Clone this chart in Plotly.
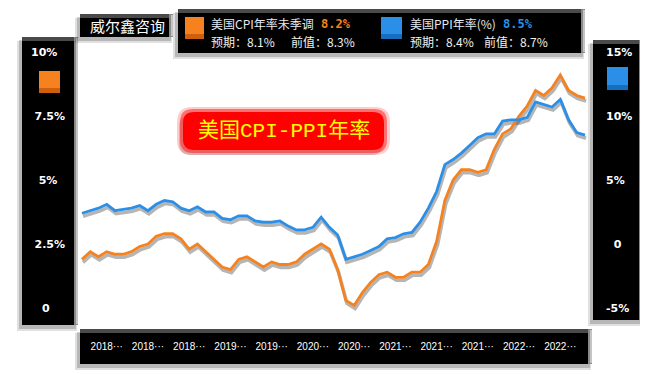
import pandas as pd
import plotly.graph_objects as go

# ---------------- data ----------------
months = pd.date_range("2017-08-01", "2022-09-01", freq="MS")
cpi_yoy = [1.9, 2.2, 2.0, 2.2, 2.1,
           2.1, 2.2, 2.4, 2.5, 2.8, 2.9, 2.9, 2.7, 2.3, 2.5, 2.2, 1.9,
           1.6, 1.5, 1.9, 2.0, 1.8, 1.6, 1.8, 1.7, 1.7, 1.8, 2.1, 2.3,
           2.5, 2.3, 1.5, 0.3, 0.1, 0.6, 1.0, 1.3, 1.4, 1.2, 1.2, 1.4,
           1.4, 1.7, 2.6, 4.2, 5.0, 5.4, 5.4, 5.3, 5.4, 6.2, 6.8, 7.0,
           7.5, 7.9, 8.5, 8.3, 8.6, 9.1, 8.5, 8.3, 8.2]
ppi_yoy = [2.4, 2.6, 2.8, 3.1, 2.6,
           2.7, 2.8, 3.0, 2.6, 3.1, 3.4, 3.3, 2.8, 2.6, 2.9, 2.5, 2.5,
           2.0, 1.9, 2.2, 2.2, 1.8, 1.7, 1.7, 1.8, 1.4, 1.1, 1.1, 1.3,
           2.1, 1.3, 0.7, -1.2, -1.0, -0.8, -0.5, -0.2, 0.4, 0.5, 0.8, 0.9,
           1.7, 2.8, 4.1, 6.2, 6.6, 7.1, 7.7, 8.3, 8.6, 8.6, 9.6, 9.7,
           9.7, 9.9, 11.1, 10.9, 10.7, 11.3, 9.7, 8.7, 8.5]
x_tick_labels = ["2018···", "2018···", "2018···", "2019···", "2019···", "2020···",
                 "2020···", "2021···", "2021···", "2021···", "2022···", "2022···"]
left_tick_vals = [0, 2.5, 5, 7.5, 10]
left_tick_text = ["0", "2.5%", "5%", "7.5%", "10%"]
right_tick_vals = [-5, 0, 5, 10, 15]
right_tick_text = ["-5%", "0", "5%", "10%", "15%"]
cpi_name = "美国CPI年率未季调"
ppi_name = "美国PPI年率(%)"
cpi_latest, cpi_expect, cpi_prev = "8.2%", "8.1%", "8.3%"
ppi_latest, ppi_expect, ppi_prev = "8.5%", "8.4%", "8.7%"
chart_title = "美国CPI-PPI年率"
brand = "威尔鑫咨询"

# ---------------- style ----------------
# page coordinates (the page body has an 8px margin)
OFF = 8
PW, PH = 648, 374
L, R, T, B = 80, 590, 40, 320
W, H = PW - OFF, PH - OFF
ORANGE = "#F5821F"
ORANGE_D = "#CF5F0C"
BLUE = "#2B8FE8"
BLUE_D = "#166FBE"

xi = list(range(len(months)))
tick_idx = xi[3::5]

x_rng = [-0.2425, 61.6]
y_l = [-0.46875, 10.46875]
y_r = [-5.9375, 15.9375]
px_per_x = (R - L) / (x_rng[1] - x_rng[0])
px_per_yl = (B - T) / (y_l[1] - y_l[0])
px_per_yr = (B - T) / (y_r[1] - y_r[0])
sdx, sdy = 1.0, 3.0  # shadow offset in pixels

FS = "\u2007"  # figure space, used to centre labels inside the side panels
left_tick_disp = [t + FS * p for t, p in zip(left_tick_text, [2, 0, 1, 0, 1])]
right_tick_disp = [FS * p + t for t, p in zip(right_tick_text, [0, 1, 0, 0, 0])]


def px(x):
    return (x - L) / (R - L)


def py(y):
    return (B - y) / (B - T)


def rect(x0, y0, x1, y1, color, opacity=1.0):
    return dict(type="rect", xref="paper", yref="paper", layer="below",
                x0=px(x0), x1=px(x1), y0=py(y1), y1=py(y0),
                fillcolor=color, opacity=opacity, line=dict(width=0))


def rrect(x0, y0, x1, y1, r, color, opacity=1.0):
    X0, X1, Y0, Y1 = px(x0), px(x1), py(y0), py(y1)
    rx, ry = r / (R - L), r / (B - T)
    p = (f"M{X0+rx},{Y0} L{X1-rx},{Y0} Q{X1},{Y0} {X1},{Y0-ry} "
         f"L{X1},{Y1+ry} Q{X1},{Y1} {X1-rx},{Y1} L{X0+rx},{Y1} "
         f"Q{X0},{Y1} {X0},{Y1+ry} L{X0},{Y0-ry} Q{X0},{Y0} {X0+rx},{Y0} Z")
    return dict(type="path", xref="paper", yref="paper", layer="below", path=p,
                fillcolor=color, opacity=opacity, line=dict(width=0))


def panel(x0, y0, x1, y1):
    s = []
    s.append(rect(x0 - 5, y0 + 4, x1 - 1, y1 + 6, "#000", 0.12))
    s.append(rect(x0 - 3, y0 + 3, x1 - 2, y1 + 4, "#000", 0.18))
    s.append(rect(x0, y0, x1, y1, "#000"))
    s.append(rect(x0, y0, x1, y0 + 4, "#4a4a4a"))
    s.append(rect(x1 - 4, y0, x1, y1, "#8a8a8a"))
    s.append(rect(x1 - 2, y0 + 1, x1, y1 - 1, "#c4c4c4"))
    return s


def icon(x0, y0, x1, y1, c, cd):
    return [rect(x0, y0, x1, y1, c), rect(x0, y1 - 5, x1, y1, cd)]


shapes = []
shapes += panel(22, 37, 78, 325)
shapes += panel(593, 40, 643, 320)
shapes += panel(80, 329, 592, 364)
shapes += panel(80, 14, 173, 37)
shapes += panel(178, 9, 585, 53)
shapes += icon(39, 71, 60, 93, ORANGE, ORANGE_D)
shapes += icon(607, 67, 628, 90, BLUE, BLUE_D)
shapes += icon(185, 17, 204, 39, ORANGE, ORANGE_D)
shapes += icon(381, 17, 402, 39, BLUE, BLUE_D)
# title badge
shapes.append(rrect(179, 115, 383, 155, 12, "#000", 0.16))
shapes.append(rrect(177, 107, 390, 155, 15, "#FF0000", 0.2))
shapes.append(rrect(180, 109, 387, 153, 13, "#FF0000", 0.45))
shapes.append(rrect(183, 112, 384, 150, 11, "#FF0000", 1.0))

fig = go.Figure()
line_w = 2.8
# shadows (base axes, shifted)
for vals, ya in ((cpi_yoy, "y"), (ppi_yoy, "y2")):
    fig.add_trace(go.Scatter(x=xi, y=vals, mode="lines", xaxis="x", yaxis=ya,
                             line=dict(color="rgba(30,30,30,0.33)", width=3.6),
                             showlegend=False, hoverinfo="skip"))
# main lines
fig.add_trace(go.Scatter(x=xi, y=cpi_yoy, mode="lines", xaxis="x2", yaxis="y3",
                         name=cpi_name, line=dict(color=ORANGE, width=line_w),
                         showlegend=False))
fig.add_trace(go.Scatter(x=xi, y=ppi_yoy, mode="lines", xaxis="x2", yaxis="y4",
                         name=ppi_name, line=dict(color=BLUE, width=line_w),
                         showlegend=False))

tick_font_y = dict(family="DejaVu Sans", size=11, color="white", weight="bold")
hidden = dict(visible=False, showgrid=False, zeroline=False, fixedrange=True)

fig.update_layout(
    width=W, height=H,
    margin=dict(l=L - OFF, r=PW - R, t=T - OFF, b=PH - B),
    paper_bgcolor="white", plot_bgcolor="rgba(0,0,0,0)",
    showlegend=False,
    xaxis=dict(hidden, range=[x_rng[0] - sdx / px_per_x, x_rng[1] - sdx / px_per_x]),
    yaxis=dict(hidden, range=[y_l[0] + sdy / px_per_yl, y_l[1] + sdy / px_per_yl]),
    yaxis2=dict(hidden, overlaying="y",
                range=[y_r[0] + sdy / px_per_yr, y_r[1] + sdy / px_per_yr]),
    xaxis2=dict(overlaying="x", anchor="y3", side="bottom", range=x_rng,
                tickmode="array", tickvals=tick_idx, ticktext=x_tick_labels,
                showgrid=False, zeroline=False, showline=False, ticks="",
                ticklabelstandoff=19,
                tickfont=dict(family="Liberation Sans", size=10, color="white")),
    yaxis3=dict(overlaying="y", side="left", range=y_l, tickmode="array",
                tickvals=left_tick_vals, ticktext=left_tick_disp,
                showgrid=False, zeroline=False, showline=False, ticks="",
                ticklabelstandoff=14, tickfont=tick_font_y),
    yaxis4=dict(overlaying="y", side="right", range=y_r, tickmode="array",
                tickvals=right_tick_vals, ticktext=right_tick_disp,
                showgrid=False, zeroline=False, showline=False, ticks="",
                ticklabelstandoff=15, tickfont=tick_font_y),
    shapes=shapes,
)

CJK = "Noto Sans CJK SC"
ann = []


def text(x, y, s, color="white", size=12, family=CJK, xanchor="left", weight="normal"):
    ann.append(dict(x=px(x), y=py(y), xref="paper", yref="paper", text=s,
                    showarrow=False, xanchor=xanchor, yanchor="middle",
                    font=dict(family=family, size=size, color=color, weight=weight)))


text(127, 26, brand, size=15, xanchor="center")
text(209, 24, cpi_name, color="#E4E9F2", size=12)
text(319, 24, cpi_latest, color=ORANGE, size=12, family="DejaVu Sans Mono", weight="bold")
text(209, 42, "预期：" + cpi_expect, color="#F0F0F0", size=12)
text(289, 42, "前值：" + cpi_prev, color="#F0F0F0", size=12)
text(408, 24, ppi_name, color="#E4E9F2", size=12)
text(501, 24, ppi_latest, color=BLUE, size=12, family="DejaVu Sans Mono", weight="bold")
text(408, 42, "预期：" + ppi_expect, color="#F0F0F0", size=12)
text(482, 42, "前值：" + ppi_prev, color="#F0F0F0", size=12)
text(284, 131, chart_title, color="#FFFF00", size=21,
     family="Liberation Mono, Noto Sans CJK SC", xanchor="center")

fig.update_layout(annotations=ann)
fig.write_html("out.html")
